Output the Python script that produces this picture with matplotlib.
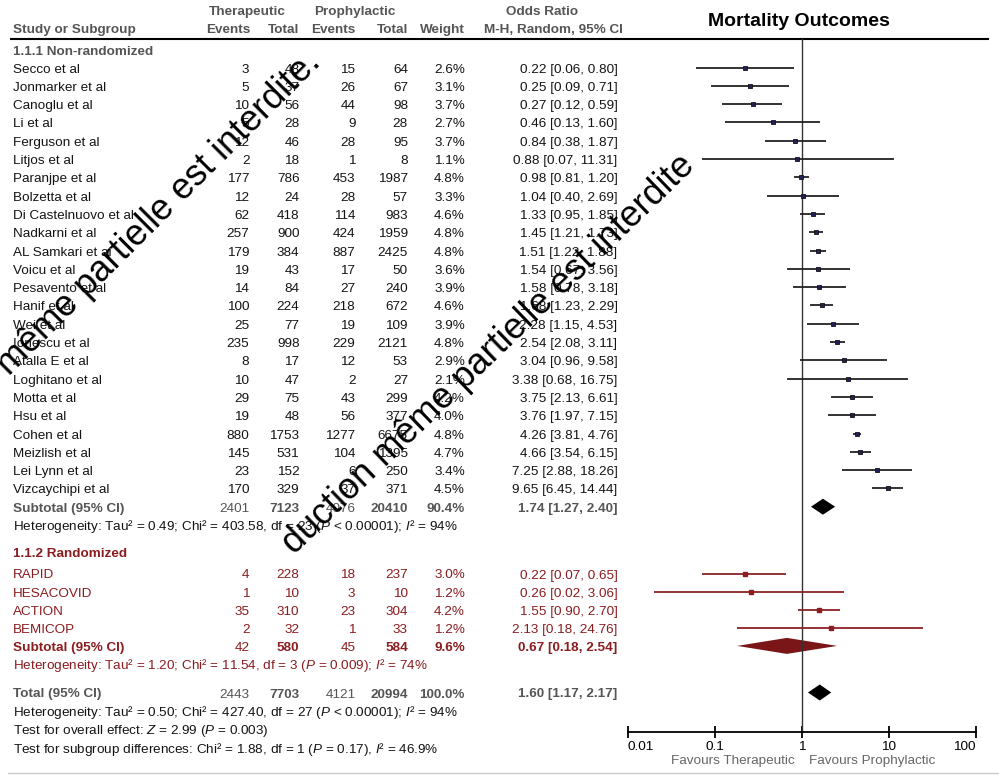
import numpy as np
import matplotlib
matplotlib.use("Agg")
import matplotlib.pyplot as plt

plt.rcParams['font.family'] = ['Liberation Sans', 'DejaVu Sans']
plt.rcParams['mathtext.fontset'] = 'custom'
plt.rcParams['mathtext.rm'] = 'Liberation Sans'
plt.rcParams['mathtext.it'] = 'Liberation Sans:italic'

# ---- data: 1.1.1 Non-randomized
studies_nr = ["Secco et al", "Jonmarker et al", "Canoglu et al", "Li et al", "Ferguson et al",
              "Litjos et al", "Paranjpe et al", "Bolzetta et al", "Di Castelnuovo et al",
              "Nadkarni et al", "AL Samkari et al", "Voicu et al", "Pesavento et al", "Hanif et al",
              "Wei et al", "Ionescu et al", "Atalla E et al", "Loghitano et al", "Motta et al",
              "Hsu et al", "Cohen et al", "Meizlish et al", "Lei Lynn et al", "Vizcaychipi et al"]
ther_ev_nr = [3, 5, 10, 5, 12, 2, 177, 12, 62, 257, 179, 19, 14, 100, 25, 235, 8, 10, 29, 19, 880, 145, 23, 170]
ther_tot_nr = [48, 37, 56, 28, 46, 18, 786, 24, 418, 900, 384, 43, 84, 224, 77, 998, 17, 47, 75, 48, 1753, 531, 152, 329]
pro_ev_nr = [15, 26, 44, 9, 28, 1, 453, 28, 114, 424, 887, 17, 27, 218, 19, 229, 12, 2, 43, 56, 1277, 104, 6, 37]
pro_tot_nr = [64, 67, 98, 28, 95, 8, 1987, 57, 983, 1959, 2425, 50, 240, 672, 109, 2121, 53, 27, 299, 377, 6675, 1395, 250, 371]
weight_nr = [2.6, 3.1, 3.7, 2.7, 3.7, 1.1, 4.8, 3.3, 4.6, 4.8, 4.8, 3.6, 3.9, 4.6, 3.9, 4.8, 2.9, 2.1, 4.2, 4.0, 4.8, 4.7, 3.4, 4.5]
or_nr = [0.22, 0.25, 0.27, 0.46, 0.84, 0.88, 0.98, 1.04, 1.33, 1.45, 1.51, 1.54, 1.58, 1.68, 2.28, 2.54, 3.04, 3.38, 3.75, 3.76, 4.26, 4.66, 7.25, 9.65]
lo_nr = [0.06, 0.09, 0.12, 0.13, 0.38, 0.07, 0.81, 0.40, 0.95, 1.21, 1.22, 0.67, 0.78, 1.23, 1.15, 2.08, 0.96, 0.68, 2.13, 1.97, 3.81, 3.54, 2.88, 6.45]
hi_nr = [0.80, 0.71, 0.59, 1.60, 1.87, 11.31, 1.20, 2.69, 1.85, 1.73, 1.88, 3.56, 3.18, 2.29, 4.53, 3.11, 9.58, 16.75, 6.61, 7.15, 4.76, 6.15, 18.26, 14.44]
sub_nr = [2401, 7123, 4076, 20410, 90.4, 1.74, 1.27, 2.40]

# ---- data: 1.1.2 Randomized
studies_r = ["RAPID", "HESACOVID", "ACTION", "BEMICOP"]
ther_ev_r = [4, 1, 35, 2]
ther_tot_r = [228, 10, 310, 32]
pro_ev_r = [18, 3, 23, 1]
pro_tot_r = [237, 10, 304, 33]
weight_r = [3.0, 1.2, 4.2, 1.2]
or_r = [0.22, 0.26, 1.55, 2.13]
lo_r = [0.07, 0.02, 0.90, 0.18]
hi_r = [0.65, 3.06, 2.70, 24.76]
sub_r = [42, 580, 45, 584, 9.6, 0.67, 0.18, 2.54]

total = [2443, 7703, 4121, 20994, 100.0, 1.60, 1.17, 2.17]

het_nr = r"Heterogeneity: Tau² = 0.49; Chi² = 403.58, df = 23 ($\mathit{P}$ < 0.00001); $\mathit{I}$² = 94%"
het_r = r"Heterogeneity: Tau² = 1.20; Chi² = 11.54, df = 3 ($\mathit{P}$ = 0.009); $\mathit{I}$² = 74%"
het_tot = r"Heterogeneity: Tau² = 0.50; Chi² = 427.40, df = 27 ($\mathit{P}$ < 0.00001); $\mathit{I}$² = 94%"
test_overall = r"Test for overall effect: $\mathit{Z}$ = 2.99 ($\mathit{P}$ = 0.003)"
test_sub = r"Test for subgroup differences: Chi² = 1.88, df = 1 ($\mathit{P}$ = 0.17), $\mathit{I}$² = 46.9%"

ticks = [0.01, 0.1, 1, 10, 100]
tick_labels = ["0.01", "0.1", "1", "10", "100"]

# ---- colours / layout
BLACK = '#141414'
GRAY = '#555555'
RED = '#8b1c1f'
FS = 9.7
ROW = 18.3
y_nr = 69.5 + ROW * np.arange(len(studies_nr))
y_sub_nr = y_nr[-1] + ROW
y_het_nr = y_sub_nr + 17.5
y_grp_r = 554
y_r = 575.5 + ROW * np.arange(len(studies_r))
y_sub_r = y_r[-1] + 17.5
y_het_r = y_sub_r + 17.5
y_tot = 694.5
y_foot = [712.5, 731, 749.5]

# column right edges
cx = [249.5, 299.5, 355.5, 408, 465, 617.5]

fig = plt.figure(figsize=(9.99, 7.78), dpi=100)
tab = fig.add_axes([0, 0, 1, 1])
tab.set_xlim(0, 999)
tab.set_ylim(778, 0)
tab.axis('off')


def fmt_or(o, l, h):
    return f"{o:.2f} [{l:.2f}, {h:.2f}]"


def row_text(y, name, vals, color, bold_tot=False, name_bold=False):
    tab.text(13, y, name, color=color, fontsize=FS, va='center',
             fontweight='bold' if name_bold else 'normal')
    te, tt, pe, pt, w, o, l, h = vals
    cells = [str(te), str(tt), str(pe), str(pt), f"{w:.1f}%", fmt_or(o, l, h)]
    bolds = [False, True, False, True, True, True]
    for x, s, b in zip(cx, cells, bolds):
        tab.text(x, y, s, ha='right', va='center', color=color, fontsize=FS,
                 fontweight='bold' if (b and bold_tot) else 'normal')


# header
tab.text(247, 12, "Therapeutic", ha='center', va='center', fontsize=FS, fontweight='bold', color=GRAY)
tab.text(355, 12, "Prophylactic", ha='center', va='center', fontsize=FS, fontweight='bold', color=GRAY)
tab.text(542, 12, "Odds Ratio", ha='center', va='center', fontsize=FS, fontweight='bold', color=GRAY)
tab.text(13, 30, "Study or Subgroup", va='center', fontsize=FS, fontweight='bold', color=GRAY)
for x, s in zip([250, 299.5, 355.5, 408, 465, 623],
                ["Events", "Total", "Events", "Total", "Weight", "M-H, Random, 95% CI"]):
    tab.text(x, 30, s, ha='right', va='center', fontsize=FS, fontweight='bold', color=GRAY)
tab.plot([10, 989], [38.5, 38.5], color='black', lw=1.5, solid_capstyle='butt')
tab.text(799, 21, "Mortality Outcomes", ha='center', va='center', fontsize=14, fontweight='bold', color='black')

# group 1
tab.text(13, 51.5, "1.1.1 Non-randomized", va='center', fontsize=FS, fontweight='bold', color=GRAY)
for i, name in enumerate(studies_nr):
    row_text(y_nr[i], name, [ther_ev_nr[i], ther_tot_nr[i], pro_ev_nr[i], pro_tot_nr[i],
                             weight_nr[i], or_nr[i], lo_nr[i], hi_nr[i]], BLACK)
row_text(y_sub_nr, "Subtotal (95% CI)", sub_nr, GRAY, bold_tot=True, name_bold=True)
tab.text(13, y_het_nr, het_nr, va='center', fontsize=FS, color=BLACK)

# group 2
tab.text(13, y_grp_r, "1.1.2 Randomized", va='center', fontsize=FS, fontweight='bold', color=RED)
for i, name in enumerate(studies_r):
    row_text(y_r[i], name, [ther_ev_r[i], ther_tot_r[i], pro_ev_r[i], pro_tot_r[i],
                            weight_r[i], or_r[i], lo_r[i], hi_r[i]], RED)
row_text(y_sub_r, "Subtotal (95% CI)", sub_r, RED, bold_tot=True, name_bold=True)
tab.text(13, y_het_r, het_r, va='center', fontsize=FS, color=RED)

# total
row_text(y_tot, "Total (95% CI)", total, GRAY, bold_tot=True, name_bold=True)
for y, s in zip(y_foot, [het_tot, test_overall, test_sub]):
    tab.text(13, y, s, va='center', fontsize=FS, color=BLACK)
tab.plot([8, 999], [773, 773], color='#cccccc', lw=1)

# ---- forest panel
fa = fig.add_axes([628 / 999, 0, (976 - 628) / 999, 1])
fa.patch.set_alpha(0)
fa.set_xscale('log')
fa.set_xlim(0.01, 100)
fa.set_ylim(778, 0)
for s in ['left', 'right', 'top']:
    fa.spines[s].set_visible(False)
fa.spines['bottom'].set_position(('data', 731.5))
fa.spines['bottom'].set_linewidth(1.3)
fa.set_xticks(ticks)
fa.set_xticklabels(tick_labels)
fa.minorticks_off()
fa.tick_params(axis='x', direction='inout', length=8, width=1.3, labelsize=FS, pad=3, colors='black')
labs = fa.get_xticklabels()
labs[0].set_ha('left')
labs[-1].set_ha('right')
fa.set_yticks([])

fa.plot([1, 1], [38.5, 731.5], color='#333333', lw=1)

off = -2
fa.hlines(y_nr + off, lo_nr, hi_nr, color='#222222', lw=1.3)
fa.plot(or_nr, y_nr + off, 's', ms=3.0, mfc='#22225a', mec='#111111', mew=0.6, ls='none')
fa.hlines(y_r + off, lo_r, hi_r, color='#8e2226', lw=1.3)
fa.plot(or_r, y_r + off, 's', ms=2.4, mfc=RED, mec=RED, ls='none')


def diamond(vals, y, color):
    o, l, h = vals[5], vals[6], vals[7]
    fa.fill([l, o, h, o], [y, y - 8, y, y + 8], color=color, lw=0)


diamond(sub_nr, y_sub_nr + off, 'black')
diamond(sub_r, y_sub_r + off, '#7a1518')
diamond(total, y_tot + off, 'black')

fa.annotate("Favours Therapeutic", (1, 761), xytext=(-5, 0), textcoords='offset points',
            ha='right', va='center', fontsize=FS, color='#666666')
fa.annotate("Favours Prophylactic", (1, 761), xytext=(5, 0), textcoords='offset points',
            ha='left', va='center', fontsize=FS, color='#666666')

# ---- watermark overlay
tab.text(322, 64, "même partielle est interdite.", rotation=45, rotation_mode='anchor',
         ha='right', va='baseline', fontsize=26, color='black')
tab.text(294, 555, "duction même partielle est interdite", rotation=44, rotation_mode='anchor',
         ha='left', va='baseline', fontsize=26, color='black')

fig.savefig("out.png", dpi=100)
